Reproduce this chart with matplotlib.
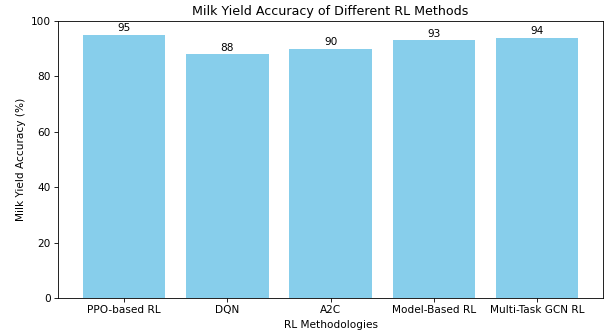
import matplotlib
matplotlib.use("Agg")
import matplotlib.pyplot as plt

methods = ["PPO-based RL", "DQN", "A2C", "Model-Based RL", "Multi-Task GCN RL"]
accuracy = [95, 88, 90, 93, 94]

DPI = 76
fig, ax = plt.subplots(figsize=(605 / DPI, 333 / DPI), dpi=DPI)
fig.subplots_adjust(left=0.096, right=0.997, top=0.937, bottom=0.105)
bars = ax.bar(methods, accuracy, color="skyblue")
for b, v in zip(bars, accuracy):
    ax.text(b.get_x() + b.get_width() / 2, v + 0.5, str(v), ha="center", va="bottom", fontsize=10)
ax.set_ylim(0, 100)
ax.set_title("Milk Yield Accuracy of Different RL Methods", fontsize=12)
ax.set_xlabel("RL Methodologies")
ax.set_ylabel("Milk Yield Accuracy (%)")
fig.savefig("out.png", dpi=DPI)
